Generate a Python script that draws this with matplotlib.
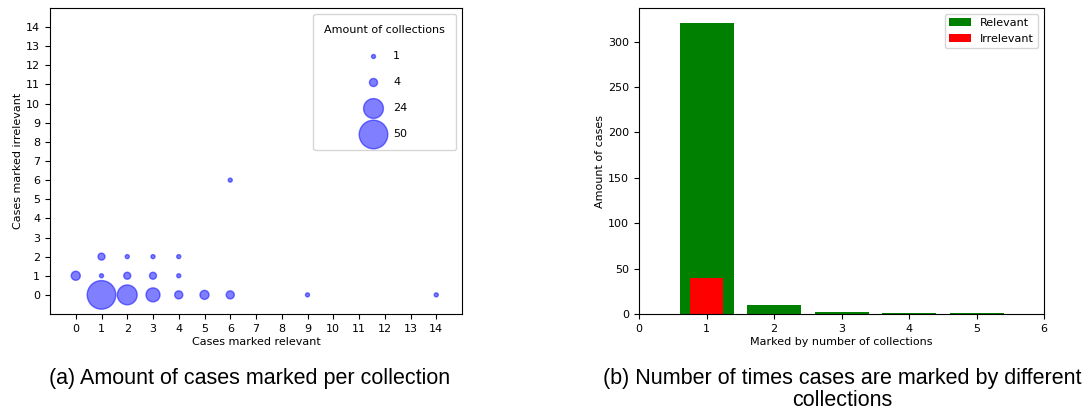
import matplotlib
matplotlib.use('Agg')
import matplotlib.pyplot as plt

# (a) scatter: cases marked relevant / irrelevant, bubble = amount of collections
relevant = [1, 2, 3, 4, 5, 6, 9, 14, 0, 1, 2, 3, 4, 1, 2, 3, 4, 6]
irrelevant = [0, 0, 0, 0, 0, 0, 0, 0, 1, 1, 1, 1, 1, 2, 2, 2, 2, 6]
collections = [50, 24, 12, 4, 5, 4, 1, 1, 5, 1, 3, 3, 1, 3, 1, 1, 1, 1]
legend_sizes = [1, 4, 24, 50]

# (b) bars
n_collections = [1, 2, 3, 4, 5]
cases_relevant = [321, 10, 2, 1, 1]
cases_irrelevant = [40, 0, 0, 0, 0]

fs = 8
fig = plt.figure(figsize=(10.9, 4.19), dpi=100)
ax1 = fig.add_axes([50 / 1090, 1 - 314 / 419, 412 / 1090, 306 / 419])
ax2 = fig.add_axes([639 / 1090, 1 - 314 / 419, 405 / 1090, 306 / 419])

k = 8.5
ax1.scatter(relevant, irrelevant, s=[c * k for c in collections], color='blue', alpha=0.5)
ax1.set_xlim(-1, 15)
ax1.set_ylim(-1, 15)
ax1.set_xticks(range(15))
ax1.set_yticks(range(15))
ax1.tick_params(labelsize=fs)
ax1.set_xlabel('Cases marked relevant', fontsize=fs, labelpad=2)
ax1.set_ylabel('Cases marked irrelevant', fontsize=fs, labelpad=2)
handles = [ax1.scatter([], [], s=c * k, color='blue', alpha=0.5) for c in legend_sizes]
ax1.legend(handles, [str(c) for c in legend_sizes], title='Amount of collections',
           fontsize=fs, title_fontsize=fs, loc='upper right', labelspacing=1.45,
           borderpad=1.0, frameon=True)

ax2.bar(n_collections, cases_relevant, width=0.8, color='green', label='Relevant')
ax2.bar(n_collections, cases_irrelevant, width=0.5, color='red', label='Irrelevant')
ax2.set_xlim(0, 6)
ax2.tick_params(labelsize=fs)
ax2.set_xlabel('Marked by number of collections', fontsize=fs, labelpad=2)
ax2.set_ylabel('Amount of cases', fontsize=fs, labelpad=2)
ax2.legend(fontsize=fs, loc='upper right')

cap = dict(fontsize=15.5, family='Liberation Sans', ha='center', va='top')
fig.text(250 / 1090, 1 - 368 / 419, '(a) Amount of cases marked per collection', **cap)
fig.text(842 / 1090, 1 - 368 / 419,
         '(b) Number of times cases are marked by different\ncollections',
         linespacing=1.05, **cap)

fig.savefig('out.png', dpi=100)
